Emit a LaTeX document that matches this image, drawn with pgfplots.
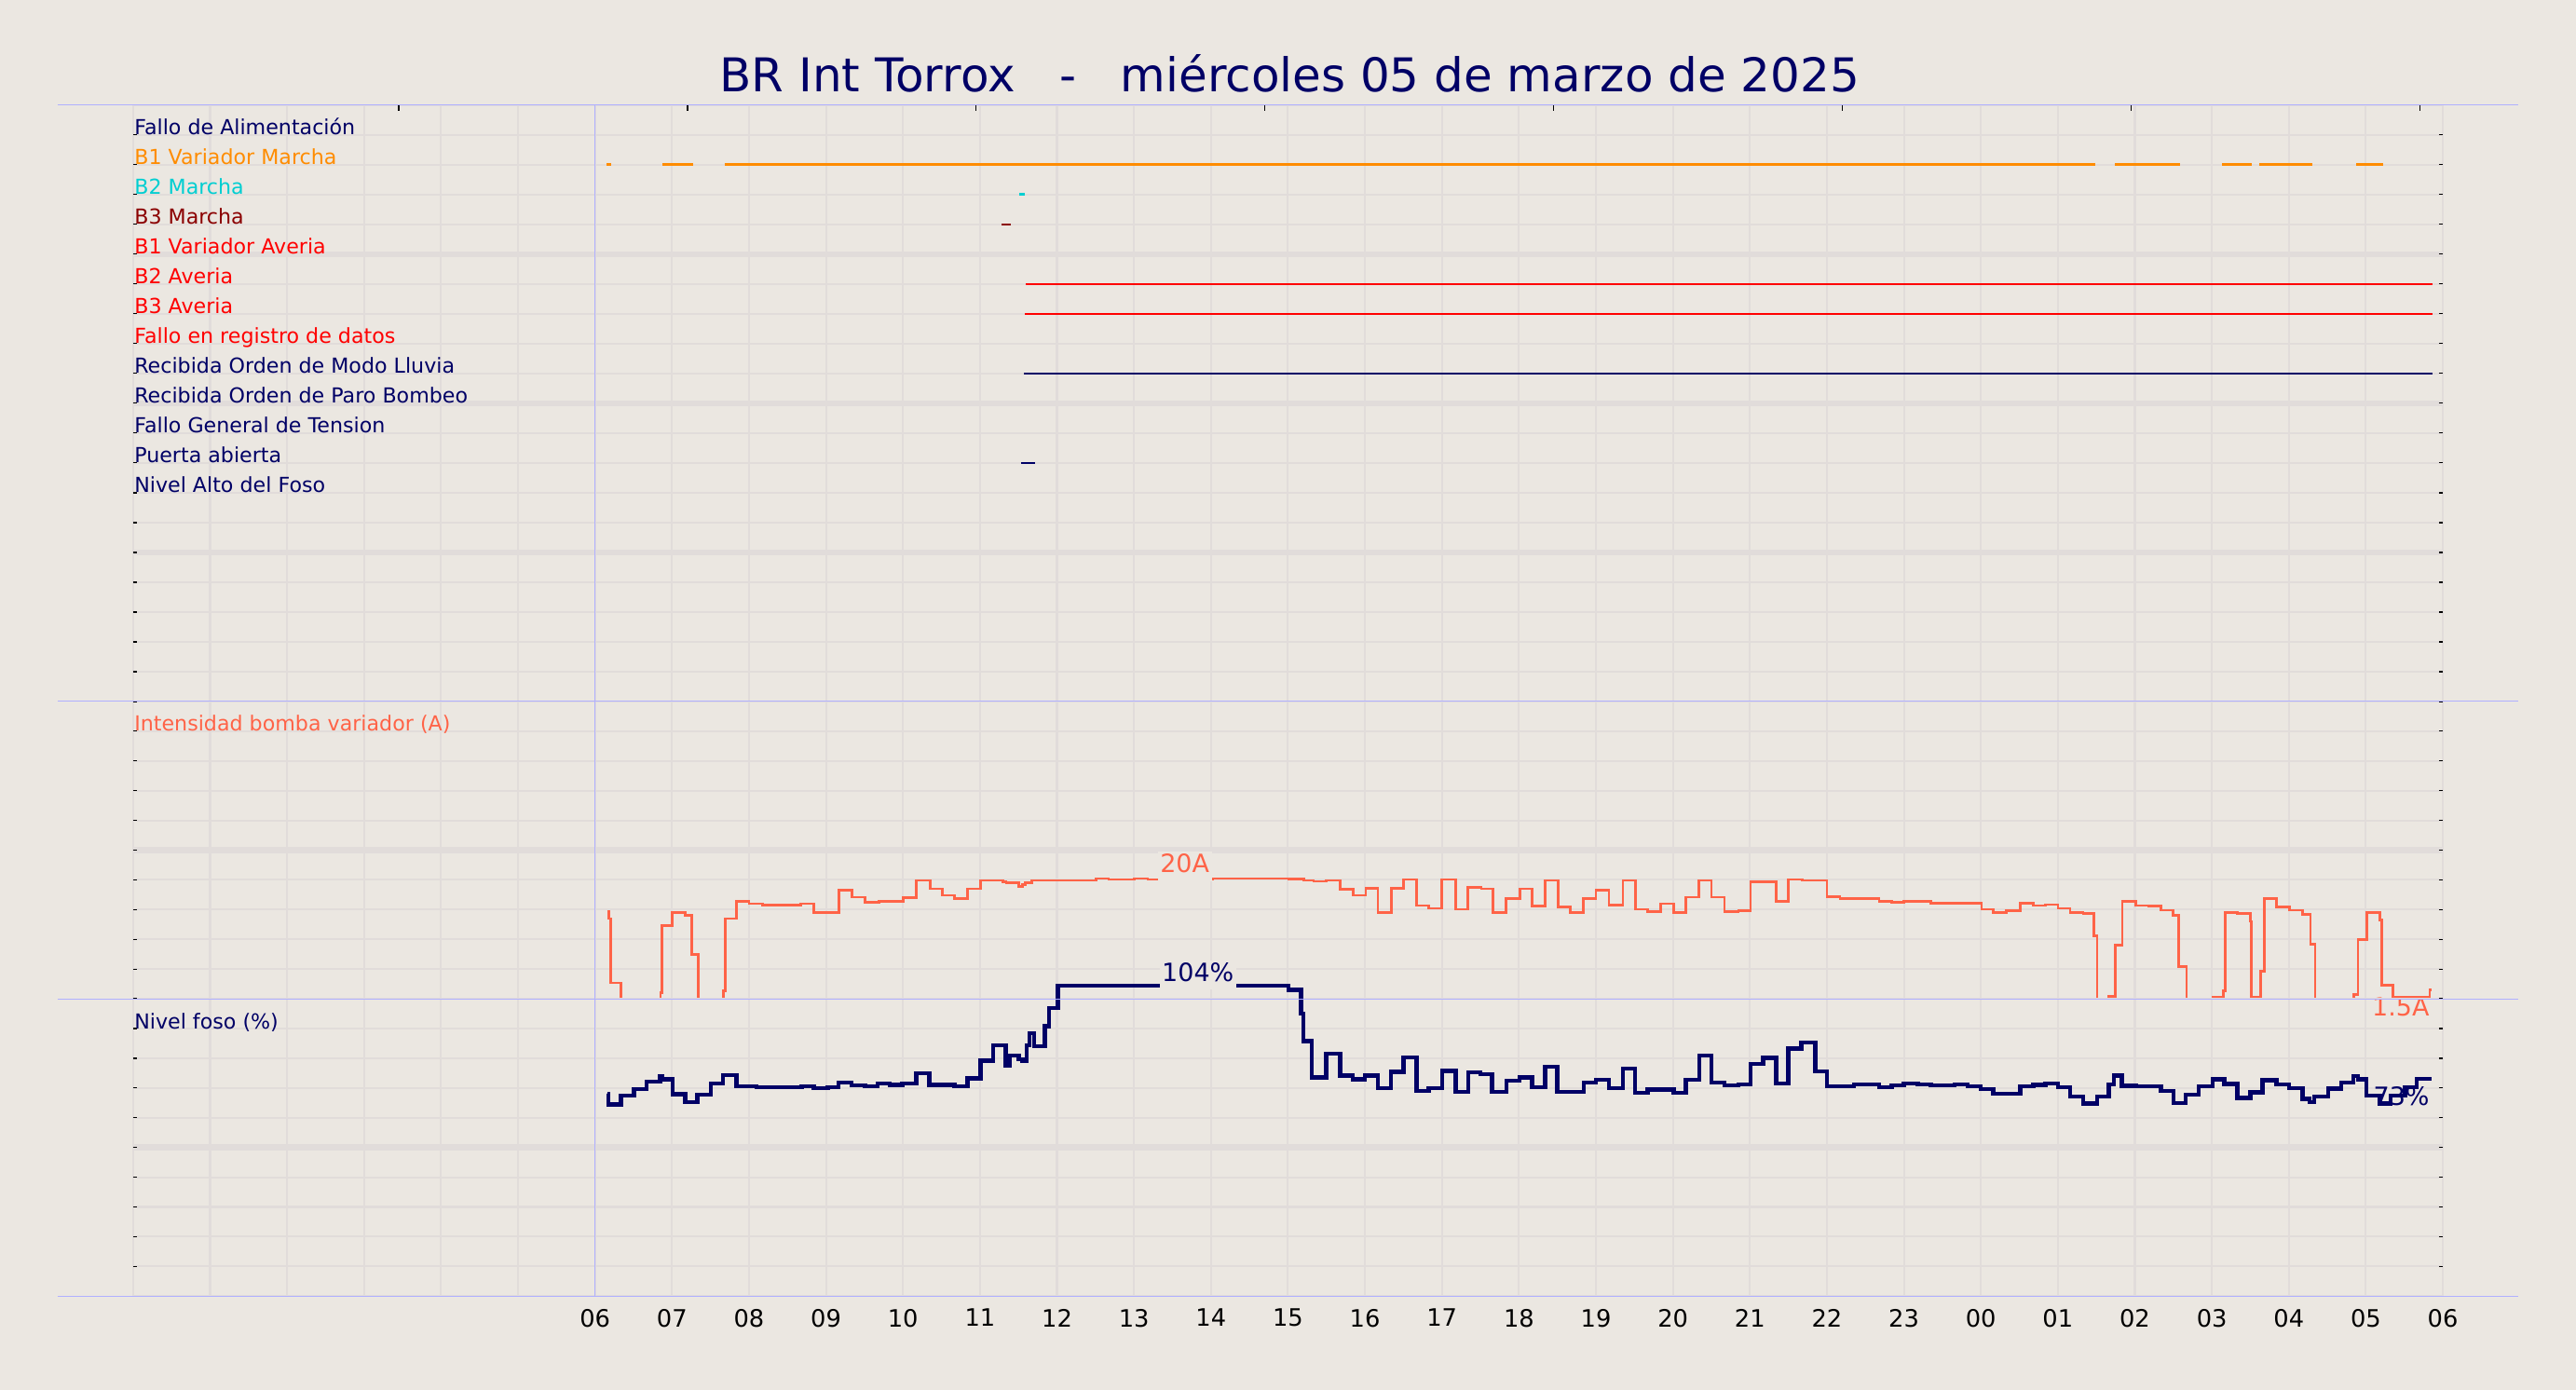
\documentclass[border=0pt]{standalone}
\usepackage{pgfplots}
\pgfplotsset{compat=1.18}
\usepackage{pgfplotstable}
\usepackage{fontspec}
\setmainfont{DejaVu Sans}
\definecolor{bg}{RGB}{235,231,225}
\definecolor{gridc}{RGB}{225,220,218}
\definecolor{lav}{RGB}{176,176,255}
\definecolor{navyc}{RGB}{0,0,102}
\definecolor{orangec}{RGB}{255,140,0}
\definecolor{cyanc}{RGB}{0,206,209}
\definecolor{darkredc}{RGB}{139,0,0}
\definecolor{redc}{RGB}{255,0,0}
\definecolor{tomatoc}{RGB}{255,99,71}
\newcommand\fs[1]{\fontsize{#1}{#1}\selectfont}

\pgfplotstableread{
h A
0.16 14.7
0.18 13.5
0.20 2.7
0.34 0
0.85 1.0
0.87 12.3
1.00 14.5
1.17 14.0
1.26 7.5
1.34 0
1.665 1.4
1.69 13.5
1.84 16.4
2.00 16.0
2.18 15.8
2.67 16.0
2.84 14.5
3.17 18.3
3.335 17.1
3.51 16.25
3.69 16.4
4.00 17.0
4.17 19.9
4.35 18.5
4.51 17.4
4.67 16.9
4.84 18.5
5.01 19.9
5.30 19.7
5.34 19.5
5.50 18.9
5.55 19.2
5.585 19.5
5.67 19.9
6.51 20.2
6.67 20.05
7.00 20.2
7.18 20.05
7.50 20.1
8.02 20.2
9.01 20.1
9.21 19.9
9.335 19.75
9.50 19.9
9.68 18.4
9.85 17.4
10.01 18.6
10.17 14.5
10.34 18.6
10.50 20.05
10.67 15.7
10.83 15.2
11.00 20.05
11.18 15.05
11.34 18.75
11.51 18.5
11.665 14.5
11.835 16.9
12.01 18.5
12.17 15.6
12.34 19.9
12.51 15.4
12.67 14.5
12.84 16.9
13.00 18.3
13.17 15.8
13.35 19.9
13.51 15.05
13.67 14.7
13.84 16.0
14.01 14.5
14.17 17.1
14.34 19.9
14.50 17.1
14.67 14.7
14.85 14.8
15.01 19.7
15.34 16.4
15.50 20.05
15.68 19.9
16.00 17.2
16.17 16.9
16.68 16.4
16.84 16.25
17.00 16.4
17.35 16.1
18.01 15.05
18.16 14.5
18.33 14.8
18.51 16.1
18.68 15.7
18.84 15.85
19.00 15.2
19.16 14.5
19.33 14.3
19.47 10.6
19.51 0
19.66 0.4
19.75 9.0
19.835 16.4
20.01 15.7
20.18 15.6
20.34 14.9
20.50 14.0
20.57 5.4
20.67 0
21.01 0.3
21.15 1.3
21.17 14.5
21.33 14.3
21.50 13.0
21.51 0.3
21.635 4.6
21.68 16.9
21.84 15.4
22.01 14.9
22.18 14.2
22.28 9.2
22.34 0
22.84 0.7
22.90 10.0
23.01 14.5
23.185 13.2
23.21 2.3
23.35 0.2
23.83 1.5
23.85 1.5
}\currenttable

\pgfplotstableread{
h L
0.16 68.0
0.17 64.5
0.335 67.4
0.504 69.7
0.673 72.1
0.847 74.0
0.875 72.9
1.008 67.9
1.17 65.3
1.331 67.7
1.504 71.6
1.665 74.4
1.835 70.5
2.097 70.2
2.682 70.5
2.843 70.0
3.024 70.3
3.165 71.9
3.335 70.8
3.508 70.5
3.669 71.6
3.83 71.0
3.99 71.6
4.173 75.0
4.343 71.0
4.669 70.5
4.839 73.3
5.008 79.2
5.173 84.4
5.335 77.6
5.39 80.9
5.504 79.7
5.552 79.2
5.605 84.3
5.645 88.5
5.706 84.1
5.84 90.8
5.90 96.9
6.01 104.4
9.01 103.0
9.17 95.0
9.20 85.8
9.31 73.6
9.496 81.5
9.677 74.2
9.84 72.9
10.0 74.2
10.17 70.0
10.335 75.4
10.5 80.2
10.67 69.0
10.83 70.0
11.0 75.7
11.18 68.75
11.34 75.2
11.5 74.7
11.65 68.75
11.835 72.4
12.01 73.6
12.17 70.3
12.34 77.1
12.5 68.75
12.84 71.8
13.0 72.8
13.17 70.0
13.35 76.5
13.51 68.4
13.67 69.5
14.01 68.4
14.17 72.8
14.34 80.9
14.5 71.9
14.67 70.8
14.85 71.25
15.01 78.1
15.17 80.1
15.34 71.6
15.5 83.3
15.67 85.3
15.85 75.5
16.0 70.5
16.35 71.25
16.68 70.2
16.84 70.8
17.0 71.6
17.18 71.25
17.35 70.8
17.66 71.25
17.83 70.5
18.0 69.7
18.16 68.1
18.51 70.5
18.68 71.0
18.84 71.6
19.0 70.3
19.16 67.2
19.33 64.8
19.51 67.2
19.66 71.25
19.73 74.2
19.83 70.7
20.02 70.5
20.34 69.0
20.5 65.0
20.66 67.7
20.83 70.5
21.01 72.9
21.16 71.35
21.33 66.6
21.5 68.6
21.66 72.6
21.84 71.25
22.0 70.0
22.18 66.4
22.27 65.3
22.33 67.1
22.51 69.8
22.68 71.9
22.84 74.0
22.9 72.9
23.01 67.4
23.185 64.8
23.32 67.5
23.51 70.3
23.66 73.1
23.85 73.1
}\leveltable

\pgfplotsset{
  panel/.style={
    scale only axis, width=1012.32pt,
    anchor=south west,
    xmin=-6, xmax=24,
    xtick={-6,...,24},
    xticklabel=\empty,
    xtick style={draw=none},
    ytick style={black, line width=0.5pt},
    yticklabel=\empty,
    major tick length=1.8pt,
    tick align=inside,
    axis line style={draw=none},
    xmajorgrids, ymajorgrids,
    grid style={gridc, line width=0.85pt},
    extra y tick style={grid=major, yticklabel=\empty, major grid style={gridc, line width=2.7pt}},
  },
}

\begin{document}
\begin{tikzpicture}
\path[use as bounding box, fill=bg] (0,0) rectangle (1129pt,609.12pt);

\node[anchor=base, text=navyc, font=\fs{20.4}, inner sep=0pt] at (565.2pt,568.8pt) {BR Int Torrox\ \ \ -\ \ \ miércoles 05 de marzo de 2025};

% ---------- Panel 1: signals ----------
\begin{axis}[panel, at={(58.32pt,301.68pt)}, height=261.36pt,
  ymin=0, ymax=20, ytick={0,...,20}, extra y ticks={5,10,15}]
\pgfplotsinvokeforeach{-2.55,1.20,4.95,8.70,12.45,16.20,19.95,23.70}{
  \draw[black, line width=0.6pt] (axis cs:#1,20) -- ([yshift=-2.7pt]axis cs:#1,20);
}
\addplot[orangec, line width=1.1pt] coordinates {(0.15,18) (0.21,18)};
\addplot[orangec, line width=1.1pt] coordinates {(0.87,18) (1.27,18)};
\addplot[orangec, line width=1.1pt] coordinates {(1.68,18) (19.49,18)};
\addplot[orangec, line width=1.1pt] coordinates {(19.74,18) (20.59,18)};
\addplot[orangec, line width=1.1pt] coordinates {(21.13,18) (21.52,18)};
\addplot[orangec, line width=1.1pt] coordinates {(21.62,18) (22.30,18)};
\addplot[orangec, line width=1.1pt] coordinates {(22.88,18) (23.22,18)};
\addplot[cyanc, line width=1.1pt] coordinates {(5.515,17) (5.583,17)};
\addplot[darkredc, line width=1.1pt] coordinates {(5.283,16) (5.40,16)};
\addplot[redc, line width=1.1pt] coordinates {(5.597,14) (23.87,14)};
\addplot[redc, line width=1.1pt] coordinates {(5.583,13) (23.87,13)};
\addplot[navyc, line width=1.1pt] coordinates {(5.576,11) (23.87,11)};
\addplot[navyc, line width=1.1pt] coordinates {(5.533,8) (5.72,8)};
\begin{scope}[every node/.style={anchor=base west, inner sep=0pt, font=\fs{9.05}, xshift=0.4pt}]
\node[text=navyc] at (axis cs:-6,19) {Fallo de Alimentación};
\node[text=orangec] at (axis cs:-6,18) {B1 Variador Marcha};
\node[text=cyanc] at (axis cs:-6,17) {B2 Marcha};
\node[text=darkredc] at (axis cs:-6,16) {B3 Marcha};
\node[text=redc] at (axis cs:-6,15) {B1 Variador Averia};
\node[text=redc] at (axis cs:-6,14) {B2 Averia};
\node[text=redc] at (axis cs:-6,13) {B3 Averia};
\node[text=redc] at (axis cs:-6,12) {Fallo en registro de datos};
\node[text=navyc] at (axis cs:-6,11) {Recibida Orden de Modo Lluvia};
\node[text=navyc] at (axis cs:-6,10) {Recibida Orden de Paro Bombeo};
\node[text=navyc] at (axis cs:-6,9) {Fallo General de Tension};
\node[text=navyc] at (axis cs:-6,8) {Puerta abierta};
\node[text=navyc] at (axis cs:-6,7) {Nivel Alto del Foso};
\end{scope}
\end{axis}

% ---------- Panel 2: current ----------
\begin{axis}[panel, at={(58.32pt,171.36pt)}, height=130.32pt,
  ymin=0, ymax=50, ytick={0,5,...,50}, extra y ticks={25}, clip=false]
\node[anchor=base west, inner sep=0pt, font=\fs{9.05}, text=tomatoc, xshift=0.4pt] at (axis cs:-6,45) {Intensidad bomba variador (A)};
\node[anchor=base east, inner sep=0pt, font=\fs{11}, text=tomatoc] at (axis cs:23.83,-2.9) {1.5A};
\addplot[const plot, tomatoc, line width=1.1pt] table[x=h, y=A] {\currenttable};
\node[anchor=base, fill=bg, inner xsep=1pt, inner ysep=1pt, text depth=2.8pt, font=\fs{11}, text=tomatoc] at (axis cs:7.66,21.2) {20A};
\end{axis}

% ---------- Panel 3: level ----------
\begin{axis}[panel, at={(58.32pt,41.04pt)}, height=130.32pt,
  ymin=0, ymax=100, ytick={0,10,...,100}, extra y ticks={50}, clip=false,
  xticklabel=\relax,
  xticklabels={{},{},{},{},{},{},06,07,08,09,10,11,12,13,14,15,16,17,18,19,20,21,22,23,00,01,02,03,04,05,06},
  xticklabel style={font=\fs{10.5}, text=black},
  xticklabel shift=2.1pt]
\node[anchor=base west, inner sep=0pt, font=\fs{9.05}, text=navyc, xshift=0.4pt] at (axis cs:-6,90) {Nivel foso (\%)};
\node[anchor=base east, inner sep=0pt, font=\fs{11}, text=navyc] at (axis cs:23.83,64.3) {73\%};
\addplot[const plot, navyc, line width=1.8pt] table[x=h, y=L] {\leveltable};
\node[anchor=base, fill=bg, inner xsep=1pt, inner ysep=1pt, text depth=2.6pt, font=\fs{11}, text=navyc] at (axis cs:7.83,105.9) {104\%};
\end{axis}

% ---------- separator lines ----------
\foreach \yy in {563.04,301.68,171.36,41.04}{
  \draw[lav, line width=0.45pt] (25.2pt,\yy pt) -- (1103.76pt,\yy pt);
}
\draw[lav, line width=0.45pt] (260.78pt,41.04pt) -- (260.78pt,563.04pt);
\end{tikzpicture}
\end{document}
